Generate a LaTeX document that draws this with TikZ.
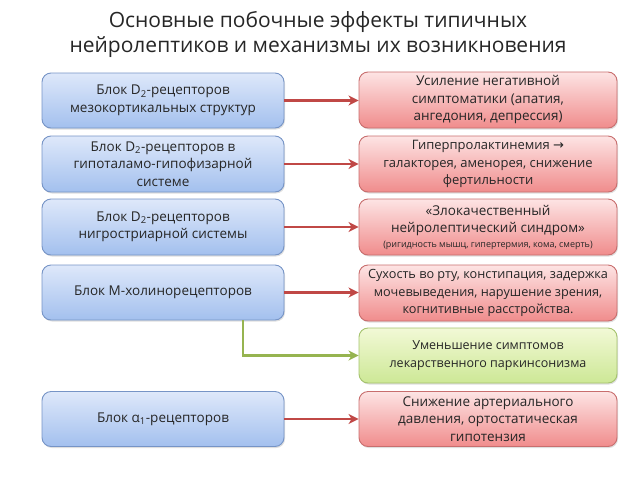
\documentclass[tikz,border=0pt]{standalone}
\usepackage{fontspec}
\setmainfont{Open Sans}
\newfontfamily\djv{DejaVu Sans}
\usetikzlibrary{shadows,arrows.meta,positioning}
\definecolor{bluetop}{RGB}{222,232,250}
\definecolor{bluebot}{RGB}{163,192,238}
\definecolor{blueline}{RGB}{118,148,198}
\definecolor{redtop}{RGB}{253,228,228}
\definecolor{redbot}{RGB}{240,140,140}
\definecolor{redline}{RGB}{200,110,110}
\definecolor{greentop}{RGB}{242,249,214}
\definecolor{greenbot}{RGB}{205,232,150}
\definecolor{greenline}{RGB}{165,195,110}
\definecolor{redarrow}{RGB}{192,72,70}
\definecolor{greenarrow}{RGB}{150,180,80}
\begin{document}
\begin{tikzpicture}[x=1pt,y=-1pt,
  base/.style={rounded corners=9pt, line width=0.9pt, align=center, inner sep=2pt,
    font=\fontsize{13.5}{17.5}\selectfont, text=black!85,
    drop shadow={opacity=0.25, shadow xshift=1pt, shadow yshift=-1.5pt}},
  bluebox/.style={base, draw=blueline, top color=bluetop, bottom color=bluebot,
    minimum width=242pt},
  redbox/.style={base, draw=redline, top color=redtop, bottom color=redbot,
    minimum width=258pt},
  greenbox/.style={base, draw=greenline, top color=greentop, bottom color=greenbot,
    minimum width=258pt},
  redarr/.style={draw=redarrow, line width=2.6pt, -{Stealth[length=10pt,width=10pt,inset=3pt]}},
  greenarr/.style={draw=greenarrow, line width=2.6pt, -{Stealth[length=10pt,width=10pt,inset=3pt]}},
  title/.style={align=center, font=\fontsize{21}{25.5}\selectfont, text=black!85}
]
\useasboundingbox (0,0) rectangle (640,480);
\node[title] (t) at (318,34.5) {Основные побочные эффекты типичных\\нейролептиков и механизмы их возникновения};

\node[bluebox, minimum height=55pt] (b1) at (163,100.5) {Блок D\textsubscript{2}-рецепторов\\мезокортикальных структур};
\node[bluebox, minimum height=56pt] (b2) at (163,164) {Блок D\textsubscript{2}-рецепторов в\\гипоталамо-гипофизарной\\системе};
\node[bluebox, minimum height=56pt] (b3) at (163,227) {Блок D\textsubscript{2}-рецепторов\\нигростриарной системы};
\node[bluebox, minimum height=55pt] (b4) at (163,292.5) {Блок М-холинорецепторов};
\node[bluebox, minimum height=55pt] (b5) at (163,419) {Блок α\textsubscript{1}-рецепторов};

\node[redbox, minimum height=56pt] (r1) at (488,100) {Усиление негативной\\симптоматики (апатия,\\ангедония, депрессия)};
\node[redbox, minimum height=56pt, font=\fontsize{13}{17.5}\selectfont] (r2) at (488,164) {Гиперпролактинемия {\djv →}\\галакторея, аменорея, снижение\\фертильности};
\node[redbox, minimum height=56pt] (r3) at (488,227) {«Злокачественный\\нейролептический синдром»\\[-3pt]{\fontsize{9}{11}\selectfont (ригидность мышц, гипертермия, кома, смерть)}};
\node[redbox, minimum height=56pt, font=\fontsize{12.7}{17.5}\selectfont] (r4) at (488,293) {Сухость во рту, констипация, задержка\\мочевыведения, нарушение зрения,\\когнитивные расстройства.};
\node[greenbox, minimum height=55pt, font=\fontsize{12.5}{17.5}\selectfont] (g) at (488,355.5) {Уменьшение симптомов\\лекарственного паркинсонизма};
\node[redbox, minimum height=55pt] (r6) at (488,419) {Снижение артериального\\давления, ортостатическая\\гипотензия};

\draw[redarr] (b1.east) -- (r1.west |- b1.east);
\draw[redarr] (b2.east) -- (r2.west |- b2.east);
\draw[redarr] (b3.east) -- (r3.west |- b3.east);
\draw[redarr] (b4.east) -- (r4.west |- b4.east);
\draw[redarr] (b5.east) -- (r6.west |- b5.east);
\coordinate (gs) at (243,0);
\draw[greenarr] (b4.south -| gs) |- (g.west);
\end{tikzpicture}
\end{document}
